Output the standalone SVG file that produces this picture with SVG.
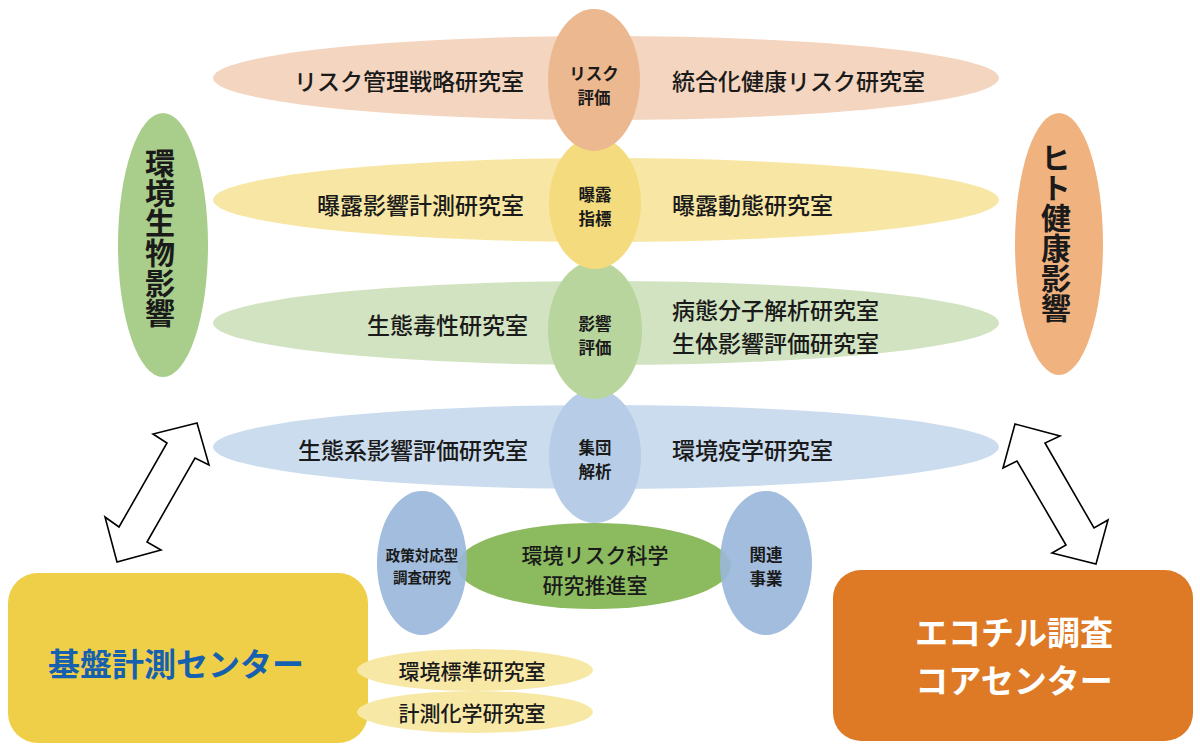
<svg xmlns="http://www.w3.org/2000/svg" width="1200" height="756" viewBox="0 0 1200 756">
<style>
text{font-family:"Noto Sans CJK JP","Noto Sans CJK SC",sans-serif;fill:#1a1a1a;dominant-baseline:central}
.band{font-size:23px;font-weight:500}
.hub{font-size:16.5px;font-weight:bold;text-anchor:middle}
.big{font-size:30px;font-weight:bold;text-anchor:middle;writing-mode:vertical-rl}
.mid{text-anchor:middle}
.arrow{fill:#ffffff;stroke:#000000;stroke-width:1.6;stroke-linejoin:miter}
</style>
<rect width="1200" height="756" fill="#ffffff"/>

<g id="row-risk">
<ellipse cx="606" cy="78" rx="393" ry="42" fill="#f4d5bf"/>
<text class="band" x="524" y="80" text-anchor="end">リスク管理戦略研究室</text>
<text class="band" x="672" y="80">統合化健康リスク研究室</text>
</g>
<g id="row-exposure">
<ellipse cx="606" cy="200" rx="393" ry="42" fill="#f8e7a4"/>
<text class="band" x="524" y="204" text-anchor="end">曝露影響計測研究室</text>
<text class="band" x="672" y="204">曝露動態研究室</text>
</g>
<g id="row-effect">
<ellipse cx="606" cy="323" rx="393" ry="42" fill="#d2e3c1"/>
<text class="band" x="528" y="324" text-anchor="end">生態毒性研究室</text>
<text class="band" x="672" y="309" font-size="22.5">病態分子解析研究室</text>
<text class="band" x="672" y="342" font-size="22.5">生体影響評価研究室</text>
</g>
<g id="row-population">
<ellipse cx="606" cy="447" rx="393" ry="42" fill="#cbdcee"/>
<text class="band" x="528" y="449" text-anchor="end">生態系影響評価研究室</text>
<text class="band" x="672" y="449">環境疫学研究室</text>
</g>

<g id="hub-population">
<ellipse cx="595" cy="456" rx="46" ry="67" fill="#b7cde7"/>
<text class="hub" x="595" y="447">集団</text>
<text class="hub" x="595" y="471">解析</text>
</g>
<g id="hub-effect">
<ellipse cx="595" cy="330" rx="47" ry="69" fill="#b8d59d"/>
<text class="hub" x="595" y="323">影響</text>
<text class="hub" x="595" y="347">評価</text>
</g>
<g id="hub-exposure">
<ellipse cx="595" cy="203" rx="46" ry="66" fill="#f4dc7e"/>
<text class="hub" x="595" y="194">曝露</text>
<text class="hub" x="595" y="218">指標</text>
</g>
<g id="hub-risk">
<ellipse cx="594" cy="80" rx="46" ry="71" fill="#ecb88f"/>
<text class="hub" x="594" y="73">リスク</text>
<text class="hub" x="594" y="97">評価</text>
</g>

<g id="eco-effects">
<ellipse cx="163" cy="245" rx="45" ry="132" fill="#a9cd8a"/>
<text class="big" x="160" y="238">環境生物影響</text>
</g>
<g id="human-health">
<ellipse cx="1059" cy="244" rx="44" ry="131" fill="#f0b27f"/>
<text class="big" x="1056" y="233">ヒト健康影響</text>
</g>

<g id="promotion-office">
<ellipse cx="594" cy="566" rx="137" ry="43" fill="#8cba5f"/>
<text class="mid" x="595" y="554" font-size="21" font-weight="500">環境リスク科学</text>
<text class="mid" x="595" y="584" font-size="21" font-weight="500">研究推進室</text>
</g>
<g id="policy-research">
<ellipse cx="422" cy="563" rx="45" ry="72" fill="#9ab7da" fill-opacity="0.92"/>
<text class="mid" x="422" y="554" font-size="14.5" font-weight="bold">政策対応型</text>
<text class="mid" x="422" y="576" font-size="14.5" font-weight="bold">調査研究</text>
</g>
<g id="related-projects">
<ellipse cx="766" cy="563" rx="46" ry="72" fill="#9ab7da" fill-opacity="0.92"/>
<text class="mid" x="766" y="554" font-size="16.5" font-weight="bold">関連</text>
<text class="mid" x="766" y="578" font-size="16.5" font-weight="bold">事業</text>
</g>

<g id="measurement-center">
<rect x="8" y="573" width="360" height="170" rx="30" fill="#f0cf48"/>
<text class="mid" x="176" y="662" font-size="32" font-weight="bold" style="fill:#1660b0">基盤計測センター</text>
</g>
<g id="env-standard-lab">
<ellipse cx="475" cy="670" rx="118" ry="21" fill="#f8e8a6"/>
<text class="mid" x="472" y="670" font-size="21" font-weight="500">環境標準研究室</text>
</g>
<g id="measurement-chem-lab">
<ellipse cx="475" cy="712" rx="118" ry="21" fill="#f8e8a6"/>
<text class="mid" x="472" y="712" font-size="21" font-weight="500">計測化学研究室</text>
</g>

<g id="ecochil-center">
<rect x="833" y="570" width="360" height="171" rx="28" fill="#de7a26"/>
<text class="mid" x="1014" y="631" font-size="33" font-weight="bold" style="fill:#ffffff">エコチル調査</text>
<text class="mid" x="1014" y="679" font-size="33" font-weight="bold" style="fill:#ffffff">コアセンター</text>
</g>

<g id="connectors">
<polygon class="arrow" points="197,423 153,434 167,443 119,527 105,517 117,562 161,550 147,542 195,458 209,465"/>
<polygon class="arrow" points="1015,424 1060,436 1045,443 1094,528 1108,520 1096,564 1052,553 1066,545 1017,461 1003,468"/>
</g>
</svg>
